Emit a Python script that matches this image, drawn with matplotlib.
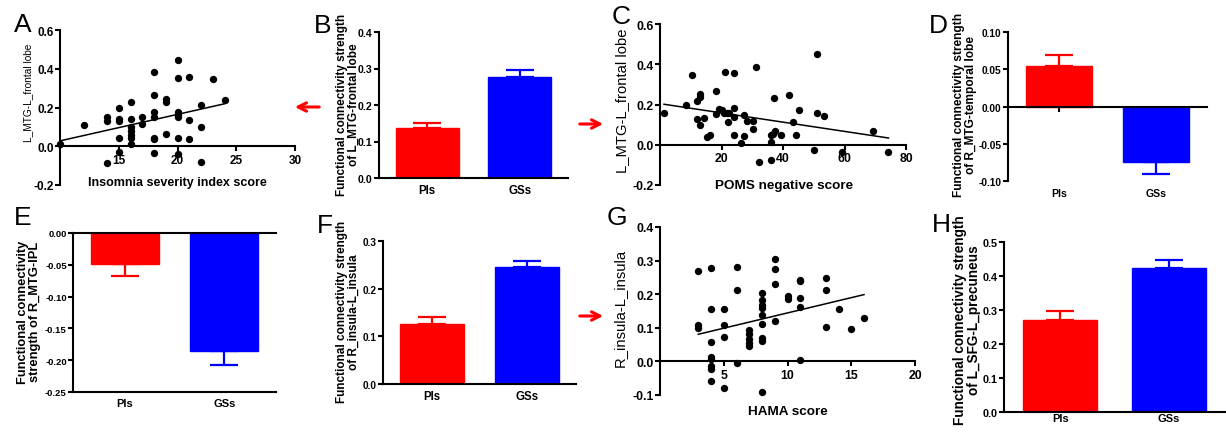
import matplotlib
matplotlib.use("Agg")
import matplotlib.pyplot as plt
import numpy as np
from matplotlib.patches import FancyArrowPatch
from matplotlib.transforms import blended_transform_factory

plt.rcParams['font.family'] = ['Liberation Sans', 'DejaVu Sans']
plt.rcParams['font.weight'] = 'bold'

# ---------------- data ----------------
groups = ["PIs", "GSs"]
bar_colors = ["#FF0000", "#0000FF"]

# A: Insomnia severity index score vs L_MTG-L_frontal lobe
A_x = [10, 12, 14, 14, 14, 15, 15, 15, 15, 15, 16, 16, 16, 16, 16, 16, 16, 17, 17,
       18, 18, 18, 18, 18, 18, 18, 19, 19, 19, 20, 20, 20, 20, 20, 20, 20, 21, 21, 21,
       22, 22, 22, 23, 24]
A_y = [0.01, 0.11, 0.15, 0.13, -0.085, 0.20, 0.14, 0.13, 0.045, -0.03, 0.23, 0.14, 0.10,
       0.08, 0.06, 0.045, 0.01, 0.15, 0.115, 0.385, 0.265, 0.175, 0.15, 0.045, 0.035, -0.035,
       0.245, 0.23, 0.065, 0.445, 0.35, 0.175, 0.16, 0.15, 0.045, -0.04, 0.355, 0.135, 0.04,
       0.215, 0.10, -0.08, 0.345, 0.24]

# C: POMS negative score vs L_MTG-L_frontal lobe
C_x = [1.3, 8.5, 10.3, 12, 13, 13, 12, 13, 14.3, 15.4, 16.3, 18.2, 18.2, 19.3, 20, 20.8,
       21.3, 21.7, 22.2, 22.5, 24.2, 24.2, 24.2, 24.2, 26.3, 27.3, 27.3, 28.2, 30.1, 30.1,
       31.2, 32.2, 36.1, 36.1, 36.1, 36.9, 37.2, 37.4, 39.4, 42.1, 43.4, 44.2, 45.2, 50.2,
       51.2, 51.2, 53.3, 59.3, 69.2, 74.3]
C_y = [0.156, 0.20, 0.348, 0.215, 0.237, 0.25, 0.13, 0.10, 0.135, 0.04, 0.046, 0.265, 0.155,
       0.177, 0.172, 0.156, 0.36, 0.156, 0.115, 0.156, 0.357, 0.184, 0.14, 0.046, 0.008, 0.148,
       0.044, 0.118, 0.118, 0.079, 0.388, -0.085, 0.046, 0.013, -0.077, 0.052, 0.234, 0.066,
       0.049, 0.246, 0.111, 0.046, 0.172, -0.025, 0.45, 0.159, 0.144, -0.036, 0.069, -0.036]

# G: HAMA score vs R_insula-L_insula
G_x = [3, 3, 3, 4, 4, 4, 4, 4, 4, 4, 4, 5, 5, 5, 5, 6, 6, 6, 7, 7, 7, 7, 7,
       8, 8, 8, 8, 8, 8, 8, 8, 8, 9, 9, 9, 9, 10, 10, 11, 11, 11, 11, 11, 13, 13, 13, 14, 15, 16]
G_y = [0.269, 0.108, 0.10, 0.277, 0.155, 0.058, 0.014, 0.007, -0.013, -0.023, -0.059,
       0.157, 0.108, 0.073, -0.08, 0.282, 0.213, -0.005, 0.093, 0.081, 0.068, 0.056, 0.047,
       0.205, 0.182, 0.167, 0.16, 0.139, 0.111, 0.071, 0.061, -0.09, 0.304, 0.274, 0.23, 0.121,
       0.195, 0.185, 0.243, 0.238, 0.188, 0.163, 0.004, 0.248, 0.213, 0.101, 0.155, 0.096, 0.129]

# bar panels: mean and SEM
B_mean = [0.136, 0.277]; B_sem = [0.016, 0.018]
D_mean = [0.055, -0.074]; D_sem = [0.014, 0.017]
E_mean = [-0.048, -0.186]; E_sem = [0.019, 0.021]
F_mean = [0.126, 0.245]; F_sem = [0.014, 0.013]
H_mean = [0.272, 0.425]; H_sem = [0.026, 0.021]

# ---------------- figure ----------------
W, H = 1226, 435
fig = plt.figure(figsize=(W / 100, H / 100), dpi=100)
LW = 1.5


def add_ax(l, t, r, b):
    return fig.add_axes([l / W, 1 - b / H, (r - l) / W, (b - t) / H])


def base_style(ax, tfs):
    for s in ['top', 'right']:
        ax.spines[s].set_visible(False)
    for s in ['left', 'bottom', 'top']:
        ax.spines[s].set_linewidth(LW)
    ax.tick_params(axis='both', width=LW, length=3.5, labelsize=tfs, direction='out', pad=1)


def scatter_panel(box, x, y, xlim, xticks, ylim, yticks, xlabel, ylabel,
                  xl_coords, yl_coords, xlfs, ylfs, tfs):
    ax = add_ax(*box)
    base_style(ax, tfs)
    ax.spines['bottom'].set_position(('data', 0))
    ax.set_xlim(xlim)
    ax.set_ylim(ylim)
    ax.set_xticks(xticks)
    ax.tick_params(axis='x', pad=2)
    ax.set_yticks(yticks, labels=[f"{v:.1f}" for v in yticks])
    ax.scatter(x, y, s=28, color='black', linewidths=0, zorder=3, clip_on=False)
    k, b0 = np.polyfit(x, y, 1)
    xs = np.array([min(x), max(x)])
    ax.plot(xs, k * xs + b0, color='black', lw=1.1, zorder=2)
    ax.set_xlabel(xlabel, fontsize=xlfs, fontweight='bold', va='center', ha='center')
    ax.xaxis.set_label_coords(*xl_coords)
    ax.set_ylabel(ylabel, fontsize=ylfs, fontweight='normal', va='center', ha='center')
    ax.yaxis.set_label_coords(*yl_coords)
    return ax


def bar_panel(box, means, sems, ylim, yticks, dec, ylabel, yl_coords, ylfs, tfs, cfs,
              mode, capsize=10, cat_pad=4):
    ax = add_ax(*box)
    base_style(ax, tfs)
    xpos = np.arange(len(groups))
    ax.bar(xpos, means, width=0.68, color=bar_colors, edgecolor=bar_colors, lw=1, zorder=2)
    for i, (m, s, c) in enumerate(zip(means, sems, bar_colors)):
        yerr = [[0], [s]] if m > 0 else [[s], [0]]
        ax.errorbar(xpos[i], m, yerr=yerr, color=c, lw=1.6, capsize=capsize,
                    capthick=1.6, zorder=1)
    ax.set_xlim(-0.52, 1.52)
    ax.set_ylim(ylim)
    ax.set_yticks(yticks, labels=[f"{v:.{dec}f}" for v in yticks])
    if mode == 'pos':
        ax.set_xticks(xpos, labels=groups, fontsize=cfs)
        ax.tick_params(axis='x', length=0, pad=cat_pad)
    elif mode == 'mixed':
        ax.spines['bottom'].set_position(('data', 0))
        ax.set_xticks(xpos, labels=["", ""])
        ax.tick_params(axis='x', length=3.5)
        tr = blended_transform_factory(ax.transData, ax.transAxes)
        for i, g in enumerate(groups):
            ax.text(xpos[i], -0.08, g, transform=tr, ha='center', va='center',
                    fontsize=cfs, fontweight='bold')
    elif mode == 'neg':
        ax.spines['top'].set_visible(True)
        ax.set_xticks(xpos, labels=groups, fontsize=cfs)
        ax.tick_params(axis='x', length=0, pad=cat_pad)
    ax.set_ylabel(ylabel, fontsize=ylfs, fontweight='bold', va='center', ha='center',
                  linespacing=1.0)
    ax.yaxis.set_label_coords(*yl_coords)
    return ax


# A
scatter_panel((60, 31, 295, 186), A_x, A_y, (10, 30), [15, 20, 25, 30], (-0.2, 0.6),
              [-0.2, 0.0, 0.2, 0.4, 0.6], "Insomnia severity index score",
              "L_MTG-L_frontal lobe", (0.5, 0.02), (-0.135, 0.6), 9, 7.3, 8.5)
# B
bar_panel((379, 33, 568, 179), B_mean, B_sem, (0, 0.4), [0.0, 0.1, 0.2, 0.3, 0.4], 1,
          "Functional connectivity strength\nof L_MTG-frontal lobe", (-0.165, 0.507),
          8.5, 7.6, 8.3, 'pos')
# C
scatter_panel((660, 25, 906, 186), C_x, C_y, (0, 80), [20, 40, 60, 80], (-0.2, 0.6),
              [-0.2, 0.0, 0.2, 0.4, 0.6], "POMS negative score",
              "L_MTG-L_frontal lobe", (0.504, 0.0), (-0.156, 0.53), 9.7, 10.6, 8.8)
# D
bar_panel((1008, 33, 1207, 182), D_mean, D_sem, (-0.1, 0.1), [-0.10, -0.05, 0.0, 0.05, 0.10],
          2, "Functional connectivity strength\nof R_MTG-temporal lobe", (-0.215, 0.517),
          8.6, 7.3, 7.6, 'mixed')
# E
bar_panel((73, 234, 276, 393), E_mean, E_sem, (-0.25, 0), [-0.25, -0.20, -0.15, -0.10, -0.05, 0.0],
          2, "Functional connectivity\nstrength of R_MTG-IPL", (-0.215, 0.51),
          9.3, 6.8, 8.0, 'neg')
# F
bar_panel((383, 242, 576, 385), F_mean, F_sem, (0, 0.3), [0.0, 0.1, 0.2, 0.3], 1,
          "Functional connectivity strength\nof R_insula-L_insula", (-0.18, 0.51),
          8.5, 7.2, 8.3, 'pos')
# G
scatter_panel((660, 228, 915, 396), G_x, G_y, (0, 20), [5, 10, 15, 20], (-0.1, 0.4),
              [-0.1, 0.0, 0.1, 0.2, 0.3, 0.4], "HAMA score",
              "R_insula-L_insula", (0.502, -0.095), (-0.159, 0.524), 9.7, 10.6, 8.8)
# H
bar_panel((1004, 243, 1225, 413), H_mean, H_sem, (0, 0.5), [0.0, 0.1, 0.2, 0.3, 0.4, 0.5], 1,
          "Functional connectivity strength\nof L_SFG-L_precuneus", (-0.166, 0.547),
          9.8, 7.8, 8.0, 'pos', cat_pad=1)

# panel letters
letters = ["A", "B", "C", "D", "E", "F", "G", "H"]
letter_pos = [(14, 32), (314, 33), (612, 24), (929, 33), (14, 225), (317, 233), (607, 225), (932, 232)]
for L, (lx, ly) in zip(letters, letter_pos):
    fig.text(lx / W, 1 - ly / H, L, fontsize=19, fontweight='normal', ha='left', va='baseline')

# red arrows
arrows = [((322, 108), (292, 108)), ((577, 125), (606, 125)), ((577, 317), (606, 317))]
for (x1, y1), (x2, y2) in arrows:
    fig.add_artist(FancyArrowPatch((x1 / W, 1 - y1 / H), (x2 / W, 1 - y2 / H),
                                   transform=fig.transFigure, arrowstyle='->',
                                   mutation_scale=15, color='red', lw=2.2))

fig.savefig("out.png", dpi=100)
